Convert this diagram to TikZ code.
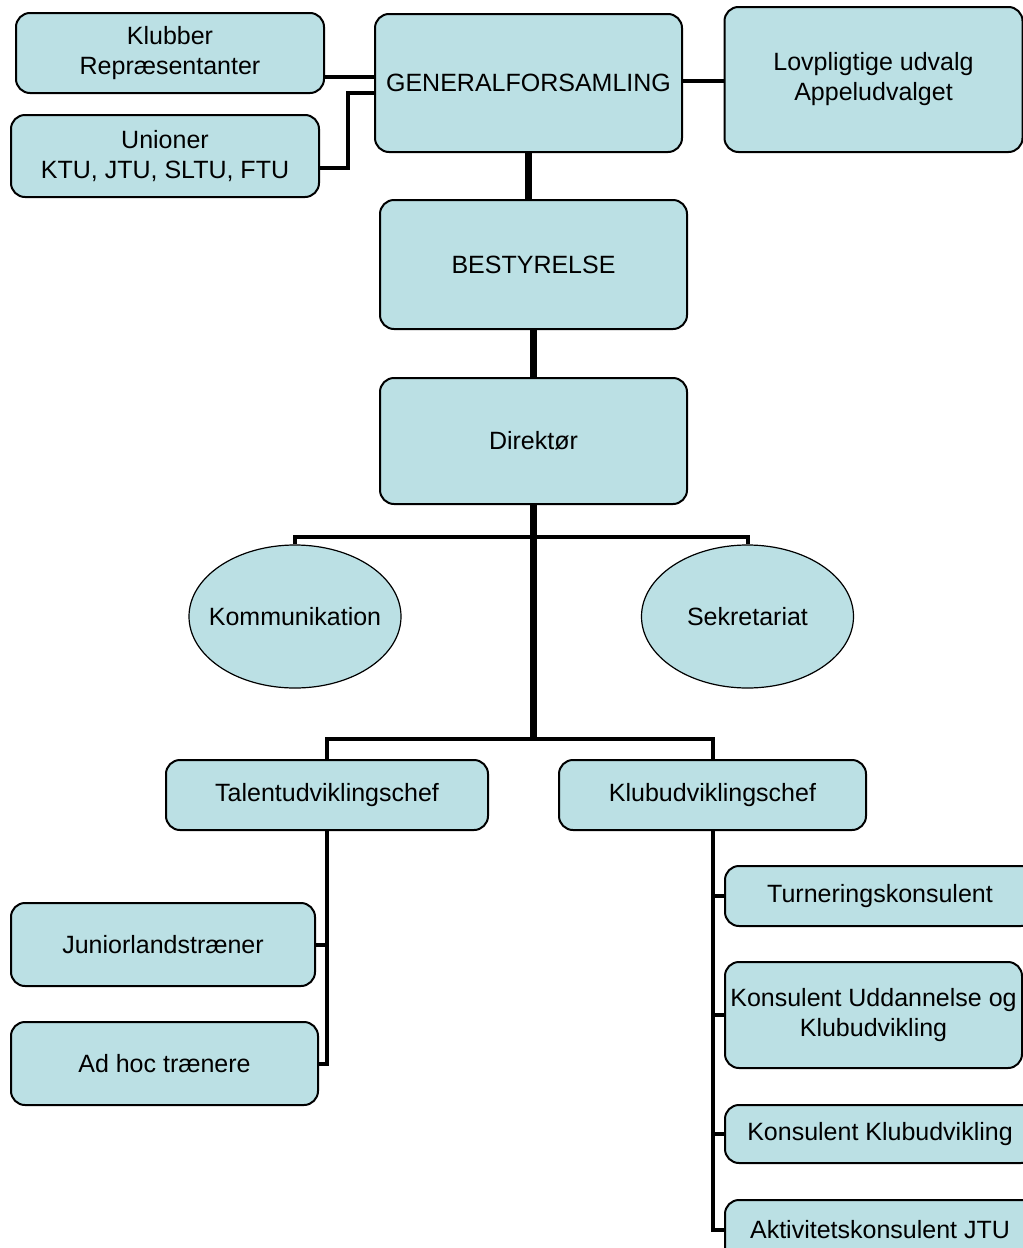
\documentclass[tikz,border=0pt]{standalone}
\usepackage{fontspec}
\setmainfont{Liberation Sans}
\usetikzlibrary{shapes.geometric}
\definecolor{boxfill}{RGB}{187,224,228}
\begin{document}
\begin{tikzpicture}[x=0.5pt,y=-0.5pt,
  box/.style={draw=black, line width=1pt, fill=boxfill, rounded corners=7pt,
    align=center, font=\fontsize{12.5}{15}\selectfont, inner sep=0pt},
  oval/.style={ellipse, draw=black, line width=0.6pt, fill=boxfill,
    font=\fontsize{12.5}{15}\selectfont, inner sep=0pt},
  link/.style={line width=2pt},
  trunk/.style={line width=3.2pt}]
\clip (0,0) rectangle (1023,1248);
\useasboundingbox (0,0) rectangle (1023,1248);

% top row
\node[box, minimum width=154pt, minimum height=40pt] (klub) at (170,53) {Klubber\\Repræsentanter};
\node[box, minimum width=154pt, minimum height=41pt] (un) at (165,156) {Unioner\\KTU, JTU, SLTU, FTU};
\node[box, minimum width=153.5pt, minimum height=69pt] (gf) at (528.5,83) {GENERALFORSAMLING};
\node[box, minimum width=149pt, minimum height=72.5pt] (lov) at (873.5,79.5) {Lovpligtige udvalg\\Appeludvalget};

% main column
\node[box, minimum width=153.5pt, minimum height=64.5pt] (best) at (533.5,264.5) {BESTYRELSE};
\node[box, minimum width=153.5pt, minimum height=63pt] (dir) at (533.5,441) {Direktør};

% staff ellipses
\node[oval, minimum width=106pt, minimum height=71.5pt] (kom) at (295,616.5) {\makebox[0pt]{Kommunikation}};
\node[oval, minimum width=106pt, minimum height=71.5pt] (sek) at (747.5,616.5) {\makebox[0pt]{Sekretariat}};

% chiefs
\node[box, minimum width=161pt, minimum height=35pt] (tal) at (327,795) {Talentudviklingschef};
\node[box, minimum width=153.5pt, minimum height=35pt] (klu) at (712.5,795) {Klubudviklingschef};

% left subordinates
\node[box, minimum width=152pt, minimum height=41.5pt] (jun) at (163,944.5) {Juniorlandstræner};
\node[box, minimum width=153.5pt, minimum height=41.5pt] (adh) at (164.5,1063.5) {Ad hoc trænere};

% right subordinates
\node[box, minimum width=155pt, minimum height=30pt] (tur) at (880,896) {Turneringskonsulent};
\node[box, minimum width=148.5pt, minimum height=53pt] (kud) at (873.5,1015) {Konsulent Uddannelse og\\Klubudvikling};
\node[box, minimum width=155pt, minimum height=29pt] (kkl) at (880,1134) {Konsulent Klubudvikling};
\node[box, minimum width=155pt, minimum height=30pt] (akt) at (880,1230) {Aktivitetskonsulent JTU};

% helper coordinates
\coordinate (h77) at (0,77);
\coordinate (h93) at (0,93);
\coordinate (h168) at (0,168);
\coordinate (h81) at (0,81);
\coordinate (h740) at (0,740);
\coordinate (jU) at (348,168);

% connectors
\draw[link] (klub.east |- h77) -- (gf.west |- h77);
\draw[link] (un.east |- h168) -- (jU) |- (gf.west |- h93);
\draw[link] (gf.east |- h81) -- (lov.west |- h81);
\draw[trunk] (gf.south) -- (gf.south |- best.north);
\draw[trunk] (best.south) -- (best.south |- dir.north);
\draw[trunk] (dir.south) -- (dir.south |- h740);
\draw[link] (kom.north) -- ++(0,-7) -| (sek.north);
\draw[link] (tal.north) -- ++(0,-20) -| (klu.north);
\draw[link] (tal.south) |- (adh.east);
\draw[link] (jun.east) -- (tal.south |- jun.east);
\draw[link] (klu.south) |- (akt.west);
\draw[link] (tur.west) -- (klu.south |- tur.west);
\draw[link] (kud.west) -- (klu.south |- kud.west);
\draw[link] (kkl.west) -- (klu.south |- kkl.west);
\end{tikzpicture}
\end{document}
